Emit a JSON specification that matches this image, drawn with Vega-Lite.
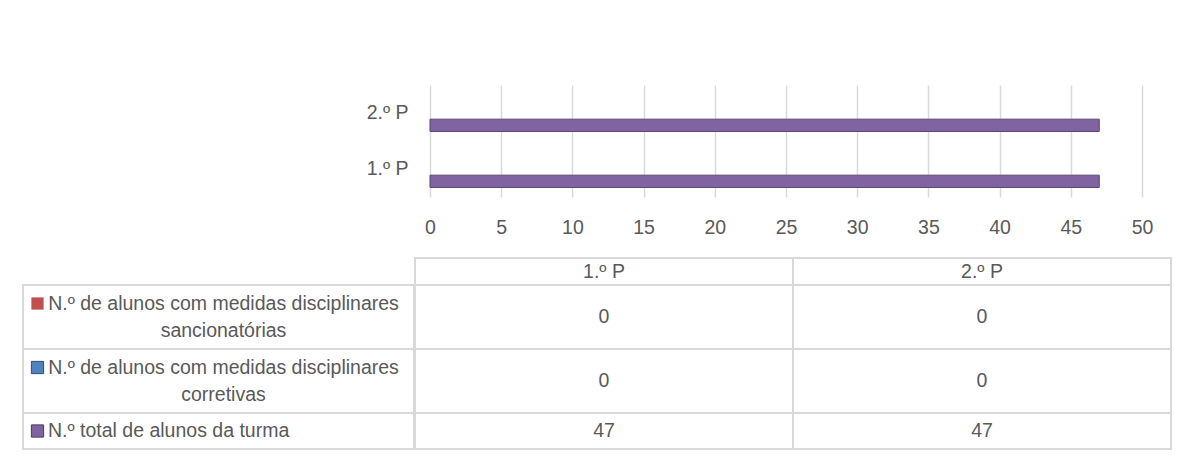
{
  "$schema": "https://vega.github.io/schema/vega-lite/v6.json",
  "padding": {"left": 22, "top": 85, "right": 0, "bottom": 0},
  "background": "white",
  "config": {
    "view": {"stroke": null},
    "font": "Liberation Sans",
    "text": {"font": "Liberation Sans", "fontSize": 19.5, "fill": "#595959"}
  },
  "datasets": {
    "tabela": [
      {"periodo": "1.º P", "serie": "N.º de alunos com medidas disciplinares\nsancionatórias", "valor": 0},
      {"periodo": "2.º P", "serie": "N.º de alunos com medidas disciplinares\nsancionatórias", "valor": 0},
      {"periodo": "1.º P", "serie": "N.º de alunos com medidas disciplinares\ncorretivas", "valor": 0},
      {"periodo": "2.º P", "serie": "N.º de alunos com medidas disciplinares\ncorretivas", "valor": 0},
      {"periodo": "1.º P", "serie": "N.º total de alunos da turma", "valor": 47},
      {"periodo": "2.º P", "serie": "N.º total de alunos da turma", "valor": 47}
    ]
  },
  "spacing": 20,
  "vconcat": [
    {
      "spacing": 0,
      "bounds": "flush",
      "hconcat": [
        {
          "width": 407,
          "height": 112,
          "data": {"values": []},
          "mark": {"type": "point", "opacity": 0},
          "encoding": {}
        },
        {
          "width": 712,
          "height": 112,
          "data": {"name": "tabela"},
          "mark": {"type": "bar", "stroke": "#5a4677"},
          "encoding": {
            "y": {
              "field": "periodo", "type": "nominal", "sort": ["2.º P", "1.º P"],
              "scale": {"paddingInner": 0.34, "paddingOuter": 0.17},
              "axis": {"title": null, "domain": false, "ticks": false, "tickSize": 0, "labelPadding": 22,
                       "labelFontSize": 19.5, "labelColor": "#595959", "labelFont": "Liberation Sans"}
            },
            "yOffset": {
              "field": "serie", "type": "nominal",
              "sort": ["N.º de alunos com medidas disciplinares\nsancionatórias", "N.º de alunos com medidas disciplinares\ncorretivas", "N.º total de alunos da turma"],
              "scale": {"paddingInner": 0, "paddingOuter": 0}
            },
            "x": {
              "field": "valor", "type": "quantitative",
              "scale": {"domain": [0, 50], "nice": false},
              "axis": {"title": null, "values": [0, 5, 10, 15, 20, 25, 30, 35, 40, 45, 50], "domain": false,
                       "ticks": false, "tickSize": 0, "labelPadding": 21, "grid": true, "gridColor": "#d9d9d9",
                       "gridWidth": 1.5, "labelFontSize": 19.5, "labelColor": "#595959", "labelFlush": false,
                       "labelFont": "Liberation Sans"}
            },
            "color": {
              "field": "serie", "type": "nominal",
              "scale": {"domain": ["N.º de alunos com medidas disciplinares\nsancionatórias", "N.º de alunos com medidas disciplinares\ncorretivas", "N.º total de alunos da turma"],
                        "range": ["#C0504D", "#4F81BD", "#8064A2"]},
              "legend": null
            },
            "strokeWidth": {"condition": {"test": "datum.valor > 0", "value": 1}, "value": 0}
          }
        }
      ]
    },
    {
      "spacing": -2,
      "hconcat": [
        {
          "spacing": 0,
          "bounds": "flush",
          "vconcat": [
            {
              "width": 391,
              "height": 27,
              "data": {"values": []},
              "mark": {"type": "point", "opacity": 0},
              "encoding": {}
            },
            {
              "width": 391,
              "height": 64,
              "data": {"name": "tabela"},
              "transform": [{"filter": "datum.serie == 'N.º de alunos com medidas disciplinares\\nsancionatórias' && datum.periodo == '1.º P'"}],
              "layer": [
                {"mark": {"type": "rect", "fill": "white", "stroke": "#d9d9d9", "strokeWidth": 2}},
                {"mark": {"type": "point", "shape": "square", "filled": true, "opacity": 1, "size": 150, "xOffset": -181, "yOffset": -13.5},
                 "encoding": {"color": {"field": "serie", "type": "nominal", "legend": null,
                                        "scale": {"domain": ["N.º de alunos com medidas disciplinares\nsancionatórias", "N.º de alunos com medidas disciplinares\ncorretivas", "N.º total de alunos da turma"],
                                                  "range": ["#C0504D", "#4F81BD", "#8064A2"]}}}},
                {"mark": {"type": "text", "baseline": "middle", "align": "center", "lineBreak": "\n", "lineHeight": 27, "dx": 5, "dy": -13.5},
                 "encoding": {"text": {"field": "serie"}}}
              ]
            },
            {
              "width": 391,
              "height": 64,
              "data": {"name": "tabela"},
              "transform": [{"filter": "datum.serie == 'N.º de alunos com medidas disciplinares\\ncorretivas' && datum.periodo == '1.º P'"}],
              "layer": [
                {"mark": {"type": "rect", "fill": "white", "stroke": "#d9d9d9", "strokeWidth": 2}},
                {"mark": {"type": "point", "shape": "square", "filled": true, "opacity": 1, "size": 150, "xOffset": -181, "yOffset": -13.5, "stroke": "#2c4d75", "strokeWidth": 1},
                 "encoding": {"color": {"field": "serie", "type": "nominal", "legend": null,
                                        "scale": {"domain": ["N.º de alunos com medidas disciplinares\nsancionatórias", "N.º de alunos com medidas disciplinares\ncorretivas", "N.º total de alunos da turma"],
                                                  "range": ["#C0504D", "#4F81BD", "#8064A2"]}}}},
                {"mark": {"type": "text", "baseline": "middle", "align": "center", "lineBreak": "\n", "lineHeight": 27, "dx": 5, "dy": -13.5},
                 "encoding": {"text": {"field": "serie"}}}
              ]
            },
            {
              "width": 391,
              "height": 36,
              "data": {"name": "tabela"},
              "transform": [{"filter": "datum.serie == 'N.º total de alunos da turma' && datum.periodo == '1.º P'"}],
              "layer": [
                {"mark": {"type": "rect", "fill": "white", "stroke": "#d9d9d9", "strokeWidth": 2}},
                {"mark": {"type": "point", "shape": "square", "filled": true, "opacity": 1, "size": 150, "xOffset": -181, "stroke": "#4b3a62", "strokeWidth": 1},
                 "encoding": {"color": {"field": "serie", "type": "nominal", "legend": null,
                                        "scale": {"domain": ["N.º de alunos com medidas disciplinares\nsancionatórias", "N.º de alunos com medidas disciplinares\ncorretivas", "N.º total de alunos da turma"],
                                                  "range": ["#C0504D", "#4F81BD", "#8064A2"]}}}},
                {"mark": {"type": "text", "baseline": "middle", "align": "left", "dx": -170.5},
                 "encoding": {"text": {"field": "serie"}}}
              ]
            }
          ]
        },
        {
          "spacing": 0,
          "bounds": "flush",
          "vconcat": [
            {
              "width": 756,
              "height": 27,
              "data": {"name": "tabela"},
              "transform": [{"filter": "datum.serie == 'N.º total de alunos da turma'"}],
              "encoding": {"x": {"field": "periodo", "type": "nominal", "sort": ["1.º P", "2.º P"], "scale": {"paddingInner": 0, "paddingOuter": 0}, "axis": null}},
              "layer": [
                {"mark": {"type": "rect", "fill": "white", "stroke": "#d9d9d9", "strokeWidth": 2}},
                {"mark": {"type": "text", "baseline": "middle"}, "encoding": {"text": {"field": "periodo"}}}
              ]
            },
            {
              "width": 756,
              "height": 64,
              "data": {"name": "tabela"},
              "transform": [{"filter": "datum.serie == 'N.º de alunos com medidas disciplinares\\nsancionatórias'"}],
              "encoding": {"x": {"field": "periodo", "type": "nominal", "sort": ["1.º P", "2.º P"], "scale": {"paddingInner": 0, "paddingOuter": 0}, "axis": null}},
              "layer": [
                {"mark": {"type": "rect", "fill": "white", "stroke": "#d9d9d9", "strokeWidth": 2}},
                {"mark": {"type": "text", "baseline": "middle"}, "encoding": {"text": {"field": "valor"}}}
              ]
            },
            {
              "width": 756,
              "height": 64,
              "data": {"name": "tabela"},
              "transform": [{"filter": "datum.serie == 'N.º de alunos com medidas disciplinares\\ncorretivas'"}],
              "encoding": {"x": {"field": "periodo", "type": "nominal", "sort": ["1.º P", "2.º P"], "scale": {"paddingInner": 0, "paddingOuter": 0}, "axis": null}},
              "layer": [
                {"mark": {"type": "rect", "fill": "white", "stroke": "#d9d9d9", "strokeWidth": 2}},
                {"mark": {"type": "text", "baseline": "middle"}, "encoding": {"text": {"field": "valor"}}}
              ]
            },
            {
              "width": 756,
              "height": 36,
              "data": {"name": "tabela"},
              "transform": [{"filter": "datum.serie == 'N.º total de alunos da turma'"}],
              "encoding": {"x": {"field": "periodo", "type": "nominal", "sort": ["1.º P", "2.º P"], "scale": {"paddingInner": 0, "paddingOuter": 0}, "axis": null}},
              "layer": [
                {"mark": {"type": "rect", "fill": "white", "stroke": "#d9d9d9", "strokeWidth": 2}},
                {"mark": {"type": "text", "baseline": "middle"}, "encoding": {"text": {"field": "valor"}}}
              ]
            }
          ]
        }
      ]
    }
  ]
}
